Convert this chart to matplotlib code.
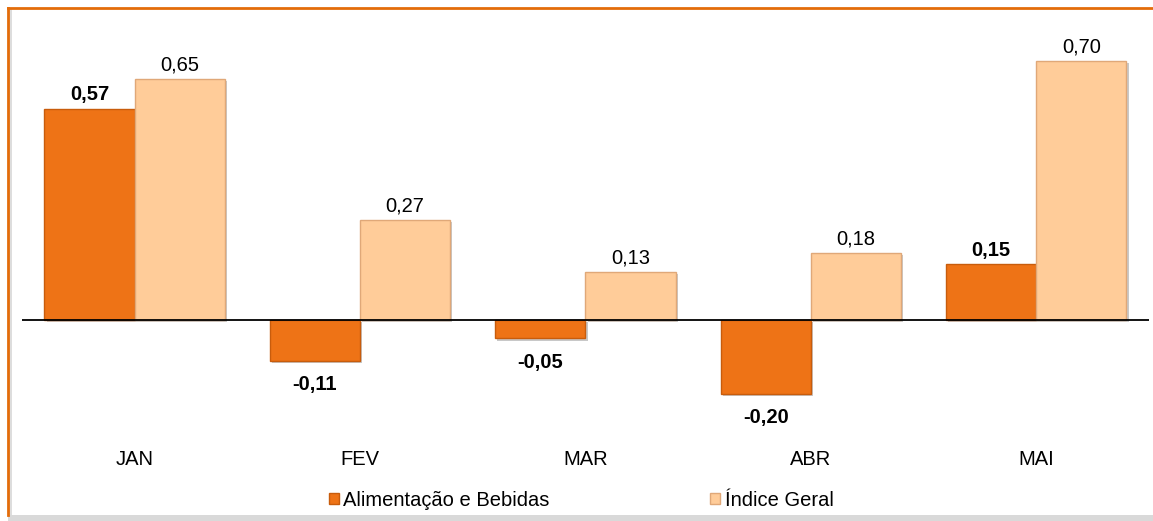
import numpy as np
import matplotlib.pyplot as plt
from matplotlib.lines import Line2D
from matplotlib.patches import Rectangle
import matplotlib.patheffects as pe

plt.rcParams['font.family'] = ['Liberation Sans', 'DejaVu Sans']

# data
months = ['JAN', 'FEV', 'MAR', 'ABR', 'MAI']
alimentacao = [0.57, -0.11, -0.05, -0.20, 0.15]
indice_geral = [0.65, 0.27, 0.13, 0.18, 0.70]
labels = ['Alimentação e Bebidas', 'Índice Geral']

c_orange = '#EE7316'
c_beige = '#FFCC99'
fs = 14.5

fig = plt.figure(figsize=(11.53, 5.21), dpi=100)
ax = fig.add_axes([0.019, 0.1727, 0.9775, 0.789])

x = np.arange(len(months))
w = 0.4
shadow = [pe.SimplePatchShadow(offset=(1.5, -1.5), shadow_rgbFace='#777777', alpha=0.4), pe.Normal()]

ax.bar(x - w / 2, alimentacao, w, color=c_orange, edgecolor='#C85C0C', linewidth=1,
       label=labels[0], path_effects=shadow, zorder=2)
ax.bar(x + w / 2, indice_geral, w, color=c_beige, edgecolor='#E0A878', linewidth=1,
       label=labels[1], path_effects=shadow, zorder=2)

def fmt(v):
    return ('%.2f' % v).replace('.', ',')

for xi, v in zip(x - w / 2, alimentacao):
    off = 10 if v >= 0 else -17
    ax.annotate(fmt(v), (xi, v), xytext=(0, off), textcoords='offset points',
                ha='center', va='center', fontsize=fs, fontweight='bold')
for xi, v in zip(x + w / 2, indice_geral):
    ax.annotate(fmt(v), (xi, v), xytext=(0, 10), textcoords='offset points',
                ha='center', va='center', fontsize=fs)

ax.axhline(0, color='black', lw=1.3, zorder=3)
ax.set_xlim(-0.5, len(months) - 0.5)
ax.set_ylim(-0.30, 0.81)
ax.set_xticks(x)
ax.set_xticklabels(months, fontsize=fs)
ax.tick_params(axis='x', length=0, pad=14)
ax.set_yticks([])
for s in ax.spines.values():
    s.set_visible(False)

fig.legend(handles=[Rectangle((0, 0), 1, 1, fc=c_orange, ec='#C85C0C'),
                    Rectangle((0, 0), 1, 1, fc=c_beige, ec='#E0A878')],
           labels=labels, loc='center', bbox_to_anchor=(0.504, 0.04), ncol=2,
           frameon=False, fontsize=fs, handlelength=0.5, handleheight=0.5,
           handletextpad=0.2, columnspacing=8.0)

# frame of the chart
fig.add_artist(Line2D([8 / 1153, 1], [1 - 8 / 521, 1 - 8 / 521], color='#E36C0A', lw=2))
fig.add_artist(Line2D([8 / 1153, 8 / 1153], [6 / 521, 1 - 8 / 521], color='#E36C0A', lw=2))
fig.add_artist(Rectangle((8 / 1153, 0), 1, 6 / 521, transform=fig.transFigure,
                         color='#D9D9D9', lw=0))
fig.add_artist(Rectangle((9 / 1153, 6 / 521), 3 / 1153, 1 - 15 / 521, transform=fig.transFigure,
                         color='#DDDDDD', lw=0))

fig.savefig('out.png', dpi=100)
